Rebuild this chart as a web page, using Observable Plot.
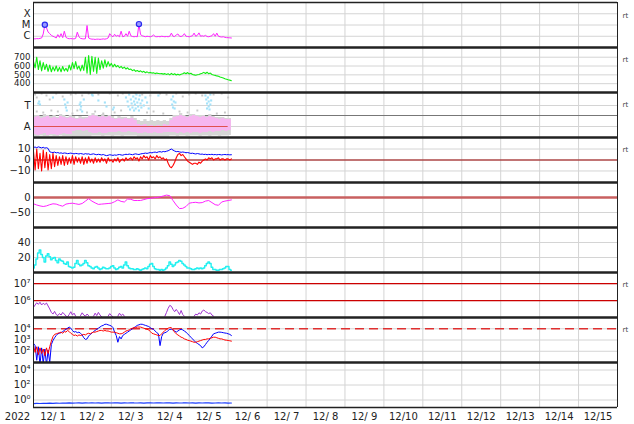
<!DOCTYPE html>
<html><head><meta charset="utf-8">
<script src="https://cdn.jsdelivr.net/npm/d3@7"></script>
<script src="https://cdn.jsdelivr.net/npm/@observablehq/plot@0.6"></script>
<style>
html,body{margin:0;padding:0;background:#fff;}
#chart{position:relative;width:634px;height:424px;overflow:hidden;background:#fff;}
#chart svg{position:absolute;left:0;}
</style></head><body><div id="chart"></div>
<script>
// ---------- time base: hourly samples from 2022-12-01 00:00 UT ----------
const START = Date.UTC(2022, 11, 1);
const HOUR = 3600000;
const DAYS = 15;

// ---------- panel 1: X-ray flux (in units of C1 = 1e-6 W/m2), hourly ----------
const xrayTicks = [1, 10, 100];
const xrayLabels = ["C", "M", "X"];
const xray = [
  0.6,0.58,0.62,0.6,0.65,0.7,1.6,10.5,5.6,2.4,
  1.7,1.2,1.0,0.85,0.7,1.4,0.8,1.7,0.75,2.8,
  0.8,0.65,0.6,0.62,0.6,0.58,0.65,2.3,0.9,0.65,
  0.6,0.58,0.6,9.0,0.7,0.6,0.55,0.55,0.52,0.55,
  0.55,0.53,0.55,0.58,0.55,0.6,0.7,1.7,1.1,0.9,
  1.5,1.0,1.2,0.9,2.8,0.9,1.0,1.7,1.0,2.8,
  1.1,0.95,0.9,0.95,0.9,12,1.4,1.1,1.0,0.9,
  1.0,0.95,0.9,1.0,1.3,0.95,0.9,0.95,0.9,1.0,
  0.95,0.9,0.95,0.9,1.0,1.9,1.0,0.95,1.3,1.6,
  1.0,0.95,1.1,1.7,1.0,0.95,0.9,1.0,1.1,1.9,
  1.0,1.2,2.0,1.0,1.1,1.0,1.2,0.95,0.9,1.0,
  1.1,1.7,1.0,1.9,1.0,0.9,0.85,0.9,0.8,0.75,
  0.75,0.72,0.7];
const flareHours = [7, 65];
const flareValues = [10.5, 12];

// ---------- panel 2: solar wind speed (km/s), hourly ----------
const speedTicks = [400, 500, 600, 700];
const speed = [
  650,580,700,560,660,545,640,560,620,540,
  610,535,590,545,600,540,585,535,595,545,
  575,540,610,555,640,570,650,565,600,545,
  610,550,700,520,720,505,710,540,700,515,
  690,560,660,575,670,590,650,600,630,590,
  620,590,606,580,596,574,588,566,580,560,
  566,548,558,540,550,536,546,530,540,524,
  534,522,528,520,524,514,520,516,512,514,
  508,514,504,512,500,516,502,512,498,508,
  498,506,512,524,512,526,510,518,504,500,
  496,502,504,512,518,528,516,530,512,520,
  504,498,494,488,484,476,470,464,456,450,
  444,440,434];

// ---------- panel 3: T / A scatter levels (2-hourly bands + dots) ----------
const taTicks = [11, 32];
const taLabels = ["A", "T"];
const pinkHi = [
  20,21,19,20,21,19,20,19,21,20,
  19,20,19,18,19,18,19,21,22,21,
  20,21,20,21,19,18,19,18,19,18,
  19,17,13,12,13,11,12,11,12,11,
  13,12,17,20,21,22,21,20,21,22,
  21,20,21,20,21,20,19,18,19,18,
  18,16];
const pinkLo = [
  3,2,3,4,2,3,3,2,3,4,
  3,3,6,7,7,6,7,5,4,4,
  5,4,4,5,5,5,6,5,5,6,
  5,5,4,4,5,4,4,5,4,4,
  5,5,5,5,4,5,4,5,4,5,
  5,4,5,5,6,5,6,6,7,6,
  7,8];
const greyHi = [
  22,22,21,23,22,21,22,20,23,22,
  20,22,21,19,21,20,20,22,24,22,
  21,23,21,22,21,19,21,20,20,19,
  21,19,17,16,18,16,17,16,17,16,
  17,16,19,22,22,24,22,21,23,23,
  22,22,22,21,23,21,20,20,20,19,
  19,17];
const greyLo = [
  1,1,1.5,1,1,1.5,1,1,1.5,1,
  1,1,0.5,0.5,0.5,0.5,0.5,0.5,1.5,1.5,
  1.5,1,1.5,1.5,1,1.5,1.5,1,1.5,1.5,
  1.5,1.5,0.5,0.5,0.5,0.5,0.5,0.5,0.5,0.5,
  0.5,0.5,1.5,1.5,1,1.5,1.5,1,1.5,1.5,
  1.5,1,1.5,1.5,1,1.5,1.5,1,1.5,1.5,
  2,3];
const blueDotHours = [3,3.5,4,12,19,19.5,20,20.5,21,28.5,29,29.3,29,30,31,36,36.5,40,44,45,49,49.5,
  57,58,58.5,59,59.5,60,60.5,61,61.5,62,62,62.5,63,63,63.5,64,64.5,65,65,65.5,66,66.5,67,68,69,70,71,77,
  85,85.5,86,86,86.5,87,87.5,106,106.5,107,107,107.5,108,108,108.5,109,109,109.5];
const blueDotValues = [34,36,33,40,38,33,30,27,35,33,35,31,28,26,38,43,42,37,35,31,28,30,
  40,36,31,43,28,38,34,30,41,27,36,33,39,29,43,35,31,38,27,42,34,30,37,32,40,35,29,42,
  38,33,41,30,36,29,35,42,38,34,29,40,31,36,28,33,43,37];
const greyDotHours = [1,2,5,8,10,14,18,23,26,30,34,40,47,52,55,63,67,72,78,82,88,92,96,100,104,111,116,120,
  2,6,11,15,24,27,33,38,43,50,54,70,74,80,90,95,101,113,118];
const greyDotValues = [43,40,44,42,38,44,41,43,44,42,44,43,44,42,44,44,43,42,44,43,44,41,43,44,42,43,44,40,
  26,25,27,26,24,27,25,26,24,25,27,25,26,24,26,25,27,24,25];

// ---------- panel 4: IMF Bt (blue) and Bz (red), nT, hourly ----------
const imfTicks = [-10, 0, 10];
const bt = [
  11.5,11.8,11.2,12.0,11.5,11.0,11.6,10.8,11.2,10.5,
  7.5,7.0,6.8,7.2,6.5,6.8,6.2,6.5,6.0,6.4,
  6.2,5.8,6.0,6.3,5.9,5.6,6.0,5.8,5.5,5.9,
  5.6,5.2,5.8,5.4,5.6,5.0,5.3,5.6,5.1,4.8,
  5.2,4.9,4.6,5.0,4.4,4.0,4.3,4.8,4.5,4.2,
  4.6,4.3,4.8,5.0,4.6,4.4,4.9,5.2,5.0,5.4,
  5.1,4.8,5.3,5.6,5.2,5.0,5.5,5.8,6.0,6.3,
  6.0,6.4,6.8,6.5,7.0,7.2,6.8,7.4,7.6,7.2,
  7.8,7.5,8.0,8.4,9.2,10.0,9.0,8.2,7.6,7.8,
  7.4,7.0,7.3,7.0,6.6,6.8,6.4,6.0,6.2,5.8,
  5.5,5.9,5.6,5.2,5.4,5.0,5.2,4.8,5.1,4.9,
  5.2,4.8,5.0,4.7,5.0,4.9,4.6,4.9,5.0,4.8,
  4.9,4.7,4.8];
const bz = [
  8,-9,10,-8,6,-10,9,-7,7,-9,
  5,-8,6,-6,4,-5,3,-4,4,-5,
  3,-4,2,-3,4,-4,3,-2,2,-3,
  3,-4,2,-3,3,-2,1,-3,2,-2,
  1,-2,2,-1,1,-3,2,-1,0,-2,
  1,-1,2,-2,0,1,-1,2,0,1,
  2,0,3,1,2,-1,3,1,4,2,
  3,0,4,2,3,1,4,2,3,1,
  2,0,1,-3,-6,-7,-5,-2,2,5,
  6,4,5,3,1,-1,-2,-3,-4,-3,
  -3,-4,-2,-3,-1,0,1,0,2,1,
  2,0,1,1,2,0,1,1,0,1,
  1,0,1];

// ---------- panel 5: Dst (nT), 2-hourly ----------
const dstTicks = [-50, 0];
const dst = [
  -21,-25,-28,-30,-28,-24,-21,-22,-26,-29,
  -22,-20,-19,-21,-23,-20,-12,-4,-12,-18,
  -23,-22,-21,-20,-19,-14,-8,-13,-15,-5,
  -6,-10,-10,-10,-7,-4,-3,-1,0,2,
  5,8,6,-10,-25,-37,-36,-30,-19,-17,
  -16,-18,-17,-12,-10,-17,-24,-26,-15,-12,
  -10,-8];

// ---------- panel 6: cyan index, hourly ----------
const cyanTicks = [20, 40];
const cyan = [
  6,10,18,26,30,24,20,14,22,25,
  21,17,19,20,16,13,18,16,15,12,
  11,14,8,7,6,7,12,16,11,9,
  10,12,16,13,9,8,6,5,7,8,
  6,4,5,7,6,5,5,6,8,9,
  6,4,5,7,8,6,10,14,9,6,
  5,5,4,4,5,4,3,4,5,6,
  5,8,11,12,8,5,4,4,3,4,
  3,4,6,9,14,11,8,10,13,14,
  16,15,12,10,8,6,6,5,4,4,
  5,6,5,6,5,6,9,12,14,12,
  7,4,4,3,3,4,4,5,6,8,
  8,4,3];

// ---------- panel 7: proton-type flux (log), hourly; null = below range ----------
const protonTicks = [1e6, 1e7];
const protonLines = [1e6, 1e7];
const proton = [
  4.0e5,5.5e5,7.5e5,6.0e5,8.0e5,5.5e5,7.0e5,5.8e5,7.2e5,4.8e5,
  3.2e5,2.0e5,1.6e5,2.3e5,1.5e5,1.3e5,1.7e5,1.4e5,2.0e5,1.6e5,
  1.2e5,1.1e5,1.5e5,2.2e5,1.4e5,1.8e5,1.2e5,null,null,1.3e5,
  1.9e5,1.4e5,1.2e5,1.6e5,1.3e5,null,null,1.2e5,1.8e5,1.3e5,
  2.0e5,1.4e5,1.1e5,null,null,null,1.2e5,1.7e5,1.3e5,1.1e5,
  null,null,1.2e5,1.8e5,1.3e5,1.6e5,1.2e5,null,null,null,
  null,null,null,null,null,null,null,null,null,null,
  null,null,null,null,null,null,null,null,null,null,
  null,1.2e5,2.0e5,3.5e5,5.2e5,4.6e5,3.0e5,2.2e5,3.0e5,2.2e5,
  1.5e5,2.6e5,1.5e5,1.2e5,null,null,null,null,null,1.2e5,
  1.6e5,1.4e5,1.9e5,1.6e5,2.4e5,2.8e5,2.2e5,2.0e5,1.7e5,1.9e5,
  1.4e5,1.2e5,null,null,null,null,null,null,null,null,
  null,null,null];

// ---------- panel 8: electron flux, log10 exponents, hourly ----------
const electronTicks = [1e2, 1e3, 1e4];
const electronAlert = 1e4;
const electronRedExp = [
  2.5,1.9,2.4,1.7,2.3,1.8,2.2,1.6,2.3,1.8,
  2.4,2.9,3.3,3.5,3.55,3.6,3.65,3.7,3.6,3.75,
  3.7,3.85,3.75,3.6,3.5,3.4,3.45,3.35,3.45,3.4,
  3.45,3.5,3.45,3.55,3.6,3.55,3.65,3.7,3.7,3.75,
  3.8,3.85,3.85,3.8,3.85,3.8,3.8,3.75,3.7,3.7,
  3.7,3.65,3.6,3.55,3.55,3.6,3.7,3.8,3.85,3.9,
  4.0,4.05,4.1,4.1,4.15,4.15,4.15,4.1,4.05,4.0,
  3.95,3.9,3.75,3.6,3.55,3.5,3.45,3.4,3.4,3.55,
  3.7,3.85,3.95,4.05,4.1,4.1,3.9,3.7,3.55,3.45,
  3.35,3.25,3.2,3.1,3.05,2.98,2.95,2.9,2.85,2.8,
  2.8,2.85,2.9,2.95,3.0,3.05,3.05,3.1,3.1,3.15,
  3.2,3.25,3.25,3.2,3.15,3.1,3.1,3.05,3.0,2.98,
  2.96,2.93,2.9];
const electronBlueExp = [
  2.7,2.5,1.2,2.4,0.8,2.3,0.9,2.2,0.8,2.1,
  1.0,2.6,2.95,3.2,3.4,3.55,3.6,3.65,3.75,3.85,
  3.95,4.05,4.15,4.05,3.85,3.7,3.75,3.65,3.7,3.6,
  3.45,3.2,3.05,3.1,3.35,3.5,3.6,3.75,3.85,3.95,
  4.05,4.15,4.25,4.3,4.4,4.4,4.35,4.3,4.25,4.1,
  3.7,3.4,2.8,3.3,3.1,3.4,3.5,3.6,3.7,3.8,
  3.9,4.0,4.1,4.2,4.3,4.35,4.4,4.4,4.35,4.3,
  4.25,4.2,4.1,4.0,3.95,3.8,3.65,3.55,2.5,3.3,
  3.6,3.65,3.7,3.85,3.95,3.95,3.9,3.8,3.7,3.8,
  3.9,3.95,3.9,3.8,3.7,3.55,3.4,3.25,3.1,2.95,
  2.8,2.7,2.6,2.5,2.3,2.4,2.6,2.8,2.96,3.15,
  3.35,3.55,3.6,3.65,3.7,3.7,3.68,3.65,3.62,3.6,
  3.55,3.5,3.4];

// ---------- panel 9: bottom flux (log), 2-hourly ----------
const bottomTicks = [1e0, 1e2, 1e4];
const bottom = [
  0.33,0.36,0.34,0.37,0.35,0.38,0.36,0.39,0.37,0.40,
  0.38,0.41,0.39,0.40,0.42,0.39,0.41,0.40,0.43,0.40,
  0.42,0.39,0.41,0.43,0.40,0.42,0.41,0.39,0.42,0.40,
  0.43,0.41,0.40,0.42,0.39,0.41,0.43,0.40,0.42,0.41,
  0.40,0.43,0.41,0.39,0.42,0.40,0.41,0.43,0.40,0.42,
  0.39,0.41,0.40,0.42,0.41,0.39,0.40,0.42,0.40,0.41,
  0.39,0.40];

// ---------- helpers ----------
const tAt = (i, step) => new Date(START + i * step * HOUR);
const series = (vals, step = 1) => vals.map((v, i) => ({t: tAt(i, step), v}));
const X_DOMAIN = [new Date(START), new Date(START + DAYS * 24 * HOUR)];
const MIDNIGHTS = d3.utcDay.range(X_DOMAIN[0], new Date(+X_DOMAIN[1] + 1));
const NOONS = d3.utcDay.range(X_DOMAIN[0], X_DOMAIN[1]).map(d => d3.utcHour.offset(d, 12));
const GRID = "#d4d4d4";
const SUP = {"-":"\u207B","0":"\u2070","1":"\u00B9","2":"\u00B2","3":"\u00B3","4":"\u2074","5":"\u2075","6":"\u2076","7":"\u2077","8":"\u2078","9":"\u2079"};
const pow10 = d => "10" + String(Math.round(Math.log10(d))).split("").map(c => SUP[c]).join("");
const dayFmt = d => `${d.getUTCMonth() + 1}/${String(d.getUTCDate()).padStart(2, " ")}`;
const FONT = "DejaVu Sans";
const chart = document.getElementById("chart");

function panel(i, cfg) {
  const mt = 3, mb = cfg.last ? 22 : 3;
  const [lo, hi] = cfg.domain;
  const marks = [
    Plot.ruleX(MIDNIGHTS, {stroke: GRID}),
    Plot.ruleY(cfg.grid || cfg.ticks, {stroke: GRID}),
    ...cfg.marks,
    Plot.axisY(cfg.ticks, {tickSize: 0, tickPadding: 3, tickFormat: cfg.format, label: null, fontSize: cfg.fontSize || 10}),
    Plot.ruleX(X_DOMAIN, {stroke: "#222"}),
    Plot.ruleY([hi], {stroke: "#222", strokeWidth: i === 0 ? 1.5 : 2.5})
  ];
  if (cfg.rt) marks.push(Plot.text(["rt"], {text: d => d, frameAnchor: "top-right", dx: 5, dy: cfg.rtDy || 10, textAnchor: "start", fontSize: 7, fill: "#444"}));
  if (cfg.last) {
    marks.push(Plot.ruleY([lo], {stroke: "#222", strokeWidth: 1.5}));
    marks.push(Plot.axisX(NOONS, {tickSize: 0, tickPadding: 5, tickFormat: dayFmt, label: null, fontSize: 10}));
    marks.push(Plot.text(["2022"], {text: d => d, x: () => X_DOMAIN[0], frameAnchor: "bottom", lineAnchor: "top", dy: 5, dx: -16, fontSize: 10}));
  }
  const svg = Plot.plot({
    width: 634, height: 45 + mt + mb,
    marginTop: mt, marginBottom: mb, marginLeft: 33, marginRight: 17,
    x: cfg.last ? {type: "utc", domain: X_DOMAIN, label: null} : {type: "utc", domain: X_DOMAIN, label: null, axis: null},
    y: {type: cfg.type || "linear", domain: cfg.domain, label: null},
    style: {background: "transparent", overflow: "visible", fontFamily: FONT, fontSize: "10px", color: "#222"},
    marks
  });
  svg.style.top = (2 + 45 * i - mt) + "px";
  chart.append(svg);
}

// 1. X-ray
panel(0, {
  type: "log", domain: [0.1, 1000], ticks: xrayTicks,
  format: d => xrayLabels[xrayTicks.indexOf(d)], rt: true, rtDy: 10.5,
  marks: [
    Plot.line(series(xray), {x: "t", y: "v", stroke: "#ff22ff", strokeWidth: 1, clip: true}),
    Plot.dot(flareHours.map((h, k) => ({t: tAt(h, 1), v: flareValues[k]})), {x: "t", y: "v", r: 2.6, fill: "#9a9aff", stroke: "#2a2aee", strokeWidth: 1.2})
  ]
});

// 2. Speed
panel(1, {
  domain: [300, 810], ticks: speedTicks, rt: true, fontSize: 8.6,
  marks: [Plot.line(series(speed), {x: "t", y: "v", stroke: "#11ee11", strokeWidth: 1.1, clip: true})]
});

// 3. T / A
const taBand = pinkHi.map((h, k) => ({t: tAt(k, 2), phi: h, plo: pinkLo[k], ghi: greyHi[k], glo: greyLo[k]}));
panel(2, {
  domain: [0, 45], ticks: taTicks, format: d => taLabels[taTicks.indexOf(d)], rt: true,
  marks: [
    Plot.ruleY([22], {stroke: "#777"}),
    Plot.areaY(taBand, {x: "t", y1: "glo", y2: "ghi", curve: "step-after", fill: "#d6d6d6", clip: true}),
    Plot.areaY(taBand, {x: "t", y1: "plo", y2: "phi", curve: "step-after", fill: "#f6b6f0", clip: true}),
    Plot.dot(greyDotHours.map((h, k) => ({t: tAt(h, 1), v: greyDotValues[k]})), {x: "t", y: "v", r: 1.1, symbol: "square", fill: "#c8c8c8", clip: true}),
    Plot.dot(blueDotHours.map((h, k) => ({t: tAt(h, 1), v: blueDotValues[k]})), {x: "t", y: "v", r: 1.2, symbol: "square", fill: "#a4e2fa", clip: true}),
    Plot.ruleY([11], {x1: X_DOMAIN[0], x2: tAt(120, 1), stroke: "#e05050", strokeWidth: 1.2})
  ]
});

// 4. IMF
panel(3, {
  domain: [-20.5, 20.5], ticks: imfTicks, rt: true,
  marks: [
    Plot.ruleY([0], {stroke: "#990000"}),
    Plot.line(series(bt), {x: "t", y: "v", stroke: "#0000ff", strokeWidth: 1, clip: true}),
    Plot.line(series(bz), {x: "t", y: "v", stroke: "#ff0000", strokeWidth: 1.1, clip: true})
  ]
});

// 5. Dst
panel(4, {
  domain: [-100, 50], ticks: dstTicks,
  marks: [
    Plot.ruleY([0], {stroke: "#c86060", strokeWidth: 2.5}),
    Plot.line(series(dst, 2), {x: "t", y: "v", stroke: "#ff22ff", strokeWidth: 1, clip: true})
  ]
});

// 6. cyan
panel(5, {
  domain: [0, 60], ticks: cyanTicks,
  marks: [Plot.line(series(cyan), {x: "t", y: "v", stroke: "#22f0f0", strokeWidth: 1.4, curve: "step", clip: true})]
});

// 7. proton
panel(6, {
  type: "log", domain: [1e5, 4.6e7], ticks: protonTicks, format: pow10, rt: true,
  marks: [
    Plot.ruleY(protonLines, {stroke: "#cc0000", strokeWidth: 1.2}),
    Plot.line(series(proton), {x: "t", y: "v", stroke: "#a032d0", strokeWidth: 1, clip: true})
  ]
});

// 8. electrons
panel(7, {
  type: "log", domain: [10, 1e5], ticks: electronTicks, format: pow10, rt: true,
  marks: [
    Plot.ruleY([electronAlert], {stroke: "#e03030", strokeWidth: 1.3, strokeDasharray: "9,5"}),
    Plot.line(series(electronBlueExp), {x: "t", y: d => Math.pow(10, d.v), stroke: "#0000ff", strokeWidth: 1, clip: true}),
    Plot.line(series(electronRedExp), {x: "t", y: d => Math.pow(10, d.v), stroke: "#ff0000", strokeWidth: 1, clip: true})
  ]
});

// 9. bottom
panel(8, {
  type: "log", domain: [0.1, 1e5], ticks: bottomTicks, format: pow10, last: true,
  marks: [Plot.line(series(bottom, 2), {x: "t", y: "v", stroke: "#1a3cff", strokeWidth: 1.2, clip: true})]
});
</script></body></html>
